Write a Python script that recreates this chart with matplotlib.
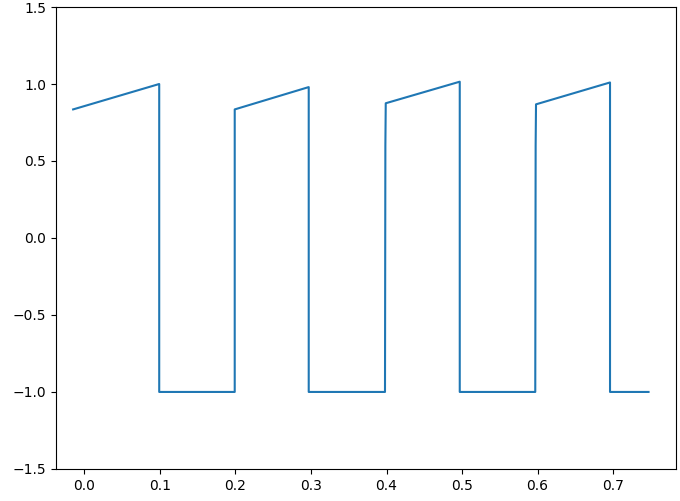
import matplotlib
matplotlib.use("Agg")
import matplotlib.pyplot as plt

# breakpoints of the waveform
t = [-0.015, 0.099, 0.099, 0.199, 0.199, 0.297, 0.297, 0.398, 0.3985, 0.399,
     0.497, 0.497, 0.597, 0.5975, 0.598, 0.696, 0.696, 0.747]
v = [0.835, 1.0, -1.0, -1.0, 0.835, 0.98, -1.0, -1.0, 0.6, 0.875,
     1.015, -1.0, -1.0, 0.6, 0.868, 1.01, -1.0, -1.0]

fig = plt.figure(figsize=(6.8, 5.01), dpi=100)
ax = fig.add_axes([0.082, 0.064, 0.9117, 0.922])
ax.plot(t, v, color="#1f77b4", linewidth=1.5)
ax.set_xlim(-0.038, 0.783)
ax.set_ylim(-1.5, 1.5)
ax.set_xticks([0.0, 0.1, 0.2, 0.3, 0.4, 0.5, 0.6, 0.7])
ax.set_yticks([-1.5, -1.0, -0.5, 0.0, 0.5, 1.0, 1.5])

fig.savefig("out.png", dpi=100)
